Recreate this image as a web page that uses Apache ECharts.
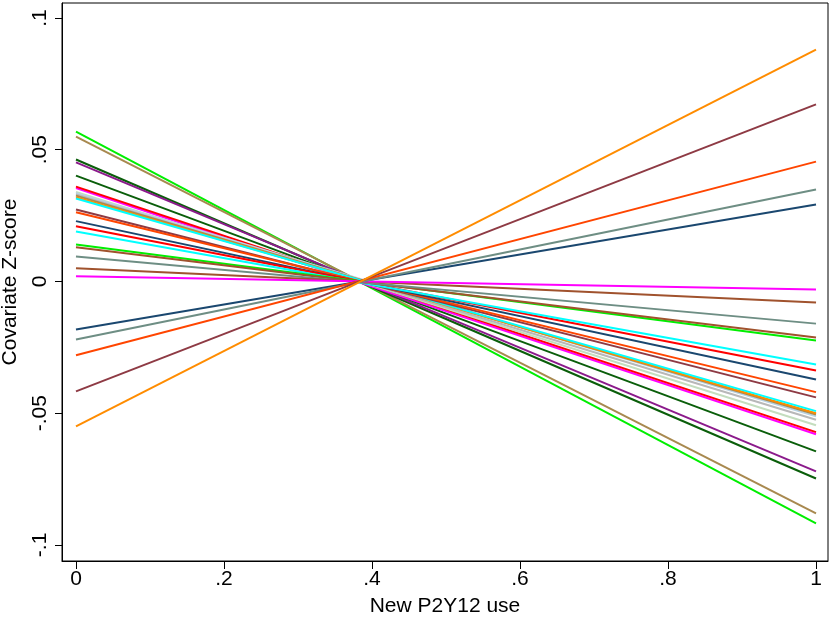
<!DOCTYPE html>
<html>
<head>
<meta charset="utf-8">
<script src="https://cdn.jsdelivr.net/npm/echarts@6/dist/echarts.min.js"></script>
<style>
html,body{margin:0;padding:0;background:#fff;}
#chart{width:830px;height:621px;}
</style>
</head>
<body>
<div id="chart"></div>
<script>
// x positions of each line's endpoints
var xPoints = [0, 1];
// value of each covariate line at x = 0
var startValues = [0.0569, 0.0550, 0.0463, 0.0452, 0.0402, 0.0355, 0.0360, 0.0340, 0.0335, 0.0330, 0.0326, 0.0320, 0.0315,
                   0.0273, 0.0263, 0.0229, 0.0210, 0.0190, 0.0140, 0.0130, 0.0095, 0.0050, 0.0020,
                   -0.0182, -0.0220, -0.0280, -0.0417, -0.0550];
// value of each covariate line at x = 1
var endValues = [-0.0918, -0.0880, -0.0748, -0.0721, -0.0645, -0.0580, -0.0572, -0.0546, -0.0512, -0.0525, -0.0505, -0.0500, -0.0492,
                 -0.0440, -0.0420, -0.0372, -0.0338, -0.0315, -0.0224, -0.0213, -0.0160, -0.0080, -0.0030,
                 0.0292, 0.0349, 0.0455, 0.0672, 0.0880];
var lineColors = ['#00EE00', '#A8894F', '#0A5E0A', '#8B1A8B', '#0A5E0A', '#FF00FF', '#FF0000', '#C4DDBE', '#B8D2E4', '#B8B8B8', '#A8894F', '#FF8C00', '#00FFFF',
                  '#8E3A44', '#FF4500', '#1A476F', '#FF0000', '#00FFFF', '#00EE00', '#A0522D', '#6E8E84', '#A0522D', '#FF00FF',
                  '#1A476F', '#6E8E84', '#FF4500', '#8E3A44', '#FF8C00'];
var xTickValues = [0, 0.2, 0.4, 0.6, 0.8, 1];
var xTickLabels = ['0', '.2', '.4', '.6', '.8', '1'];
var yTickValues = [-0.1, -0.05, 0, 0.05, 0.1];
var yTickLabels = ['-.1', '-.05', '0', '.05', '.1'];
var xTitle = 'New P2Y12 use';
var yTitle = 'Covariate Z-score';

var series = startValues.map(function (v, i) {
  return {
    type: 'line',
    data: [[xPoints[0], v], [xPoints[1], endValues[i]]],
    showSymbol: false,
    symbol: 'none',
    lineStyle: { color: lineColors[i], width: 2 },
    itemStyle: { color: lineColors[i] },
    silent: true,
    z: 2
  };
});

var font = 'Liberation Sans, Arial, sans-serif';
var chart = echarts.init(document.getElementById('chart'), null, { renderer: 'canvas' });
chart.setOption({
  animation: false,
  backgroundColor: '#fff',
  grid: { left: 62, right: 2, top: 3, bottom: 60, show: true, borderColor: '#000', borderWidth: 1, containLabel: false, outerBoundsMode: 'none' },
  xAxis: {
    type: 'value', min: -0.0189, max: 1.0162,
    name: xTitle, nameLocation: 'middle', nameGap: 35,
    nameTextStyle: { fontFamily: font, fontSize: 21, color: '#000' },
    axisLine: { show: true, onZero: false, lineStyle: { color: '#000', width: 1 } },
    axisTick: { show: true, length: 8, lineStyle: { color: '#000' }, customValues: xTickValues },
    axisLabel: {
      fontFamily: font, fontSize: 21, color: '#000', margin: 8,
      customValues: xTickValues,
      formatter: function (v) { var i = xTickValues.findIndex(function (t) { return Math.abs(t - v) < 1e-9; }); return i >= 0 ? xTickLabels[i] : ''; }
    },
    splitLine: { show: false }
  },
  yAxis: {
    type: 'value', min: -0.1061, max: 0.1057,
    name: yTitle, nameLocation: 'middle', nameGap: 41, nameRotate: 90,
    nameTextStyle: { fontFamily: font, fontSize: 21, color: '#000' },
    axisLine: { show: true, onZero: false, lineStyle: { color: '#000', width: 1 } },
    axisTick: { show: true, length: 7, lineStyle: { color: '#000' }, customValues: yTickValues },
    axisLabel: {
      fontFamily: font, fontSize: 21, color: '#000', margin: 11, rotate: 90,
      customValues: yTickValues,
      formatter: function (v) { var i = yTickValues.findIndex(function (t) { return Math.abs(t - v) < 1e-9; }); return i >= 0 ? yTickLabels[i] : ''; }
    },
    splitLine: { show: false }
  },
  series: series
});
</script>
</body>
</html>
